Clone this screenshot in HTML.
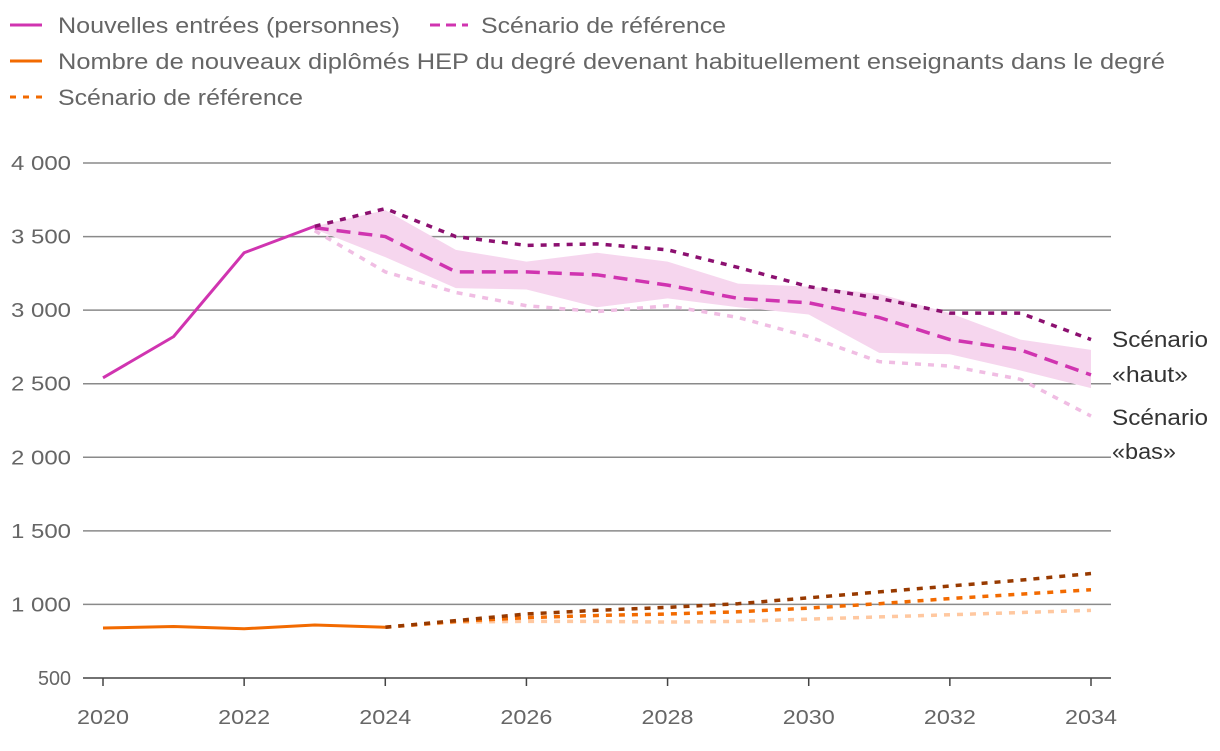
<!DOCTYPE html>
<html><head><meta charset="utf-8"><style>
body{margin:0;background:#fff;width:1220px;height:746px;overflow:hidden;font-family:"Liberation Sans",sans-serif}
text{font-family:"Liberation Sans",sans-serif}
</style></head><body>
<svg id="chart" width="1220" height="746" xmlns="http://www.w3.org/2000/svg">
<g font-size="22" fill="#666">
<g><line x1="10" y1="25" x2="42" y2="25" stroke="#d034b0" stroke-width="3"/><text x="58" y="33" fill="#666" textLength="342" lengthAdjust="spacingAndGlyphs">Nouvelles entrées (personnes)</text></g>
<g><line x1="430" y1="25" x2="468" y2="25" stroke="#d034b0" stroke-width="3" stroke-dasharray="10,6"/><text x="481" y="33" fill="#666" textLength="245" lengthAdjust="spacingAndGlyphs">Scénario de référence</text></g>
<g><line x1="10" y1="61" x2="42" y2="61" stroke="#f26a00" stroke-width="3"/><text x="58" y="69" fill="#666" textLength="1107" lengthAdjust="spacingAndGlyphs">Nombre de nouveaux diplômés HEP du degré devenant habituellement enseignants dans le degré</text></g>
<g><line x1="10" y1="97" x2="42" y2="97" stroke="#f26a00" stroke-width="3" stroke-dasharray="6,7"/><text x="58" y="105" fill="#666" textLength="245" lengthAdjust="spacingAndGlyphs">Scénario de référence</text></g>
</g>
<g id="grid"></g>
<g id="yaxis" font-size="20" fill="#666"></g>
<g id="xaxis" font-size="20" fill="#666"></g>
<g id="marks"></g>
<text x="1112" y="347" font-size="22" fill="#333" textLength="96" lengthAdjust="spacingAndGlyphs">Scénario</text>
<text x="1112" y="382" font-size="22" fill="#333" textLength="76" lengthAdjust="spacingAndGlyphs">«haut»</text>
<text x="1112" y="425" font-size="22" fill="#333" textLength="96" lengthAdjust="spacingAndGlyphs">Scénario</text>
<text x="1112" y="459" font-size="22" fill="#333" textLength="64" lengthAdjust="spacingAndGlyphs">«bas»</text>
</svg>
<script>
const years=[2020,2021,2022,2023,2024,2025,2026,2027,2028,2029,2030,2031,2032,2033,2034];
const yTicks=[500,1000,1500,2000,2500,3000,3500,4000];
const xTicks=[2020,2022,2024,2026,2028,2030,2032,2034];
const pinkActualYears=[2020,2021,2022,2023];
const pinkActual=[2540,2820,3390,3570];
const projYears=[2023,2024,2025,2026,2027,2028,2029,2030,2031,2032,2033,2034];
const pinkRef=[3560,3500,3260,3260,3240,3170,3080,3050,2950,2800,2730,2560];
const pinkHigh=[3570,3690,3500,3440,3450,3410,3290,3160,3080,2980,2980,2800];
const pinkLow=[3540,3260,3120,3030,2990,3030,2950,2820,2650,2620,2530,2280];
const bandYears=[2023,2024,2025,2026,2027,2028,2029,2030,2031,2032,2033,2034];
const bandUpper=[3570,3680,3410,3330,3390,3330,3180,3160,3110,2980,2800,2730];
const bandLower=[3550,3360,3150,3140,3020,3080,3020,2970,2710,2700,2590,2470];
const orActualYears=[2020,2021,2022,2023,2024];
const orActual=[840,850,835,860,845];
const orProjYears=[2024,2025,2026,2027,2028,2029,2030,2031,2032,2033,2034];
const orHigh=[845,890,935,960,980,1005,1045,1085,1125,1165,1210];
const orRef=[845,885,910,925,935,950,975,1005,1040,1070,1100];
const orLow=[845,880,885,885,880,885,900,915,930,945,960];

const NS="http://www.w3.org/2000/svg";
const X=y=>103+(y-2020)*(1091-103)/14;
const Y=v=>678-(v-500)*(678-163)/3500;
function mk(t,a,p){const e=document.createElementNS(NS,t);for(const k in a)e.setAttribute(k,a[k]);p.appendChild(e);return e;}
const grid=document.getElementById('grid'),ya=document.getElementById('yaxis'),xa=document.getElementById('xaxis'),m=document.getElementById('marks');
yTicks.forEach(v=>{
 const l=mk('line',{x1:83,x2:1111,y1:Y(v),y2:Y(v),stroke:v===500?'#444':'#8a8a8a','stroke-width':1.5},grid);
 
 
 const t=mk('text',{x:71,y:Y(v)+7,'text-anchor':'end'},ya);
 t.textContent=v>=1000?Math.floor(v/1000)+' '+String(v%1000).padStart(3,'0'):String(v);
 t.setAttribute('textLength',v>=1000?'60':'33');
 t.setAttribute('lengthAdjust','spacingAndGlyphs');
 
 
});
xTicks.forEach(y=>{
 const l=mk('line',{x1:X(y),x2:X(y),y1:678,y2:686,stroke:'#444','stroke-width':1.5},xa);
 
 
 const t=mk('text',{x:X(y)-26,y:724,textLength:52,lengthAdjust:'spacingAndGlyphs'},xa);
 t.textContent=y;
 
 
});
let bp=bandYears.map((y,i)=>X(y)+','+Y(bandUpper[i]));
for(let i=bandYears.length-1;i>=0;i--)bp.push(X(bandYears[i])+','+Y(bandLower[i]));
const band=mk('polygon',{points:bp.join(' '),fill:'#f6d6ee'},m);


function line(xs,vs,col,w,dash,name){
 const p=mk('polyline',{points:xs.map((y,i)=>X(y)+','+Y(vs[i])).join(' '),fill:'none',stroke:col,'stroke-width':w,'stroke-dasharray':dash||'none','stroke-linejoin':'round'},m);
 
 
}
line(projYears,pinkLow,'#f0bde3',3.5,'6,7','pink-low-line');
line(projYears,pinkRef,'#d034b0',3.5,'14,8','pink-reference-line');
line(projYears,pinkHigh,'#8c1070',3.5,'6,7','pink-high-line');
line(pinkActualYears,pinkActual,'#d034b0',3,'','pink-actual-line');
line(orProjYears,orLow,'#ffc8a0',3.5,'6,7','orange-low-line');
line(orProjYears,orRef,'#f26a00',3.5,'6,7','orange-reference-line');
line(orProjYears,orHigh,'#983a00',3.5,'6,7','orange-high-line');
line(orActualYears,orActual,'#f26a00',3,'','orange-actual-line');
</script>
</body></html>
